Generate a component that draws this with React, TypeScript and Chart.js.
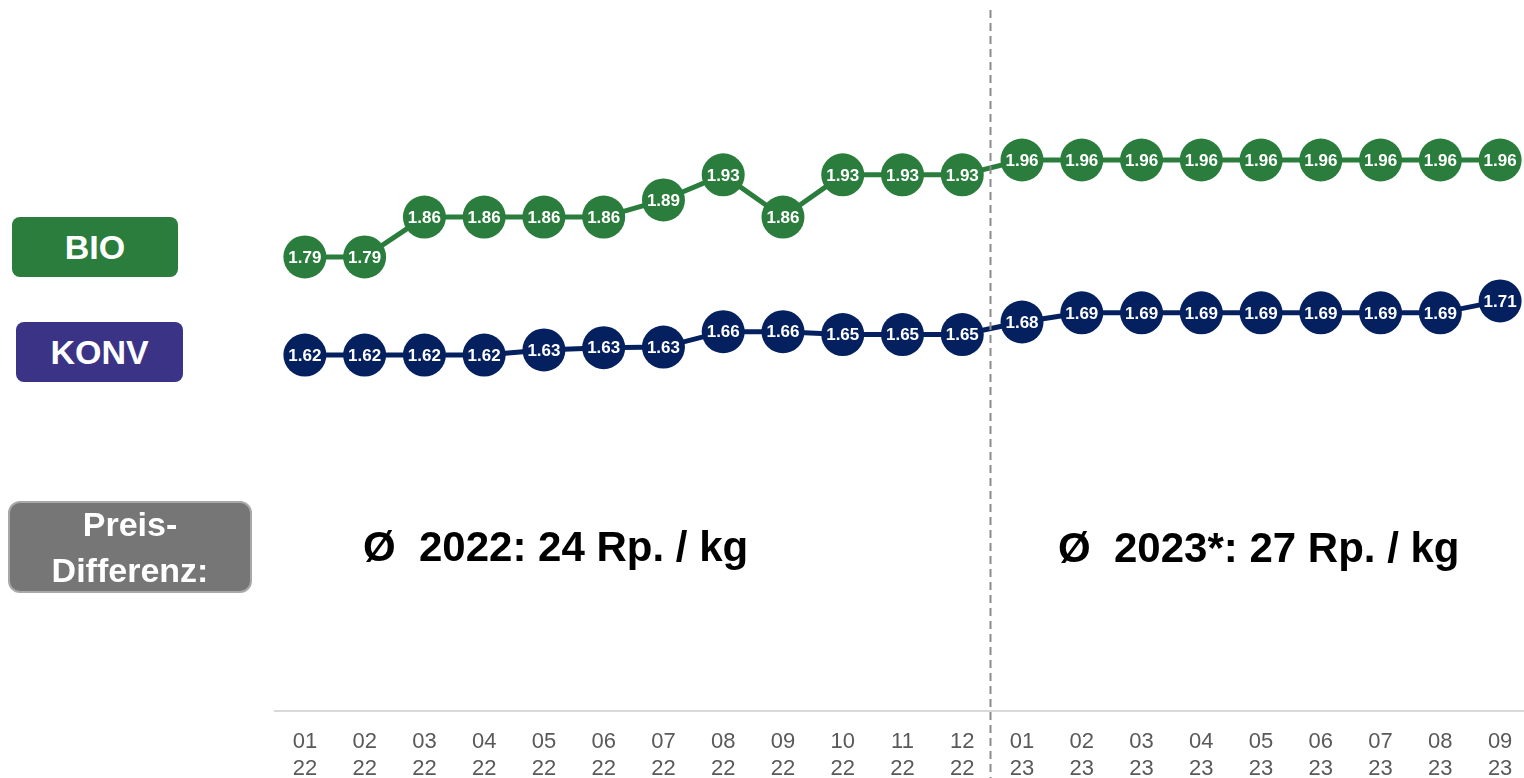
import React, { useEffect, useRef } from "react";
import { Chart, registerables } from "chart.js";

Chart.register(...registerables);

const MONTHS = ["01", "02", "03", "04", "05", "06", "07", "08", "09", "10", "11", "12", "01", "02", "03", "04", "05", "06", "07", "08", "09"];
const YEARS = ["22", "22", "22", "22", "22", "22", "22", "22", "22", "22", "22", "22", "23", "23", "23", "23", "23", "23", "23", "23", "23"];
const BIO = [1.79, 1.79, 1.86, 1.86, 1.86, 1.86, 1.89, 1.934, 1.86, 1.934, 1.934, 1.934, 1.96, 1.96, 1.96, 1.96, 1.96, 1.96, 1.96, 1.96, 1.96];
const KONV = [1.618, 1.618, 1.618, 1.618, 1.627, 1.631, 1.632, 1.659, 1.659, 1.654, 1.654, 1.654, 1.676, 1.692, 1.692, 1.692, 1.692, 1.692, 1.692, 1.692, 1.713];
const Y_MIN = 0.994;
const Y_MAX = 2.223;
const AVG_2022 = "Ø  2022: 24 Rp. / kg";
const AVG_2023 = "Ø  2023*: 27 Rp. / kg";

const GREEN = "#2a7d3c";
const NAVY = "#04205f";
const FONT = "'Liberation Sans', Arial, Helvetica, sans-serif";

const labelPlugin = {
  id: "pointLabels",
  afterDatasetsDraw(chart: any) {
    const ctx = chart.ctx;
    ctx.save();
    ctx.font = `bold 17px ${FONT}`;
    ctx.fillStyle = "#ffffff";
    ctx.textAlign = "center";
    ctx.textBaseline = "middle";
    chart.data.datasets.forEach((ds: any, i: number) => {
      const meta = chart.getDatasetMeta(i);
      meta.data.forEach((pt: any, j: number) => {
        ctx.fillText(Number(ds.data[j]).toFixed(2), pt.x, pt.y + 1);
      });
    });
    ctx.restore();
  },
};

const dividerPlugin = {
  id: "divider",
  afterDraw(chart: any) {
    const xs = chart.scales.x;
    const x = Math.round((xs.getPixelForValue(11) + xs.getPixelForValue(12)) / 2) - 1.5;
    const ctx = chart.ctx;
    ctx.save();
    ctx.strokeStyle = "#8c8c8c";
    ctx.lineWidth = 2;
    ctx.setLineDash([8, 5]);
    ctx.beginPath();
    ctx.moveTo(x, 10);
    ctx.lineTo(x, chart.height);
    ctx.stroke();
    ctx.restore();
  },
};

export default function App() {
  const ref = useRef<HTMLCanvasElement | null>(null);

  useEffect(() => {
    if (!ref.current) return;
    const chart = new Chart(ref.current, {
      type: "line",
      data: {
        labels: MONTHS.map((m, i) => [m, YEARS[i]]),
        datasets: [
          {
            label: "BIO",
            data: BIO,
            borderColor: GREEN,
            backgroundColor: GREEN,
            pointBackgroundColor: GREEN,
            pointBorderWidth: 0,
            pointRadius: 21.5,
            borderWidth: 5,
            tension: 0,
            clip: false,
          },
          {
            label: "KONV",
            data: KONV,
            borderColor: NAVY,
            backgroundColor: NAVY,
            pointBackgroundColor: NAVY,
            pointBorderWidth: 0,
            pointRadius: 21.5,
            borderWidth: 5,
            tension: 0,
            clip: false,
          },
        ],
      },
      options: {
        responsive: false,
        animation: false,
        maintainAspectRatio: false,
        layout: { autoPadding: false, padding: { left: 275, right: 10, top: 10, bottom: 0 } },
        plugins: {
          legend: { display: false },
          tooltip: { enabled: false },
        },
        scales: {
          x: {
            offset: true,
            grid: { display: false, drawTicks: false },
            border: { display: true, color: "#d9d9d9", width: 2 },
            ticks: {
              color: "#595959",
              font: { family: FONT, size: 22, lineHeight: 1.2 },
              padding: 18,
              maxRotation: 0,
              autoSkip: false,
            },
            afterFit(scale: any) {
              scale.height = 67;
            },
          },
          y: {
            display: false,
            min: Y_MIN,
            max: Y_MAX,
          },
        },
      },
      plugins: [dividerPlugin, labelPlugin],
    });
    return () => chart.destroy();
  }, []);

  const boxBase: React.CSSProperties = {
    position: "absolute",
    display: "flex",
    alignItems: "center",
    justifyContent: "center",
    color: "#ffffff",
    fontFamily: FONT,
    fontWeight: "bold",
    boxSizing: "border-box",
    textAlign: "center",
  };

  const avgStyle: React.CSSProperties = {
    position: "absolute",
    fontFamily: FONT,
    fontWeight: "bold",
    fontSize: 42,
    lineHeight: "42px",
    whiteSpace: "pre",
    color: "#000000",
  };

  return (
    <div style={{ position: "fixed", left: 0, top: 0, width: 1524, height: 778, overflow: "hidden", background: "#ffffff" }}>
      <canvas ref={ref} width={1540} height={778} style={{ position: "absolute", left: 0, top: 0, width: 1540, height: 778 }} />
      <div style={{ ...boxBase, left: 12, top: 217, width: 166, height: 60, background: GREEN, borderRadius: 8, fontSize: 34 }}>BIO</div>
      <div style={{ ...boxBase, left: 16, top: 322, width: 167, height: 60, background: "#3b3486", borderRadius: 8, fontSize: 34 }}>KONV</div>
      <div
        style={{
          ...boxBase,
          left: 8,
          top: 501,
          width: 244,
          height: 92,
          background: "#767676",
          border: "2px solid #a8a8a8",
          borderRadius: 12,
          fontSize: 34,
          lineHeight: "46px",
          flexDirection: "column",
        }}
      >
        <div>Preis-</div>
        <div>Differenz:</div>
      </div>
      <div style={{ ...avgStyle, left: 363, top: 526 }}>{AVG_2022}</div>
      <div style={{ ...avgStyle, left: 1058, top: 527 }}>{AVG_2023}</div>
    </div>
  );
}
